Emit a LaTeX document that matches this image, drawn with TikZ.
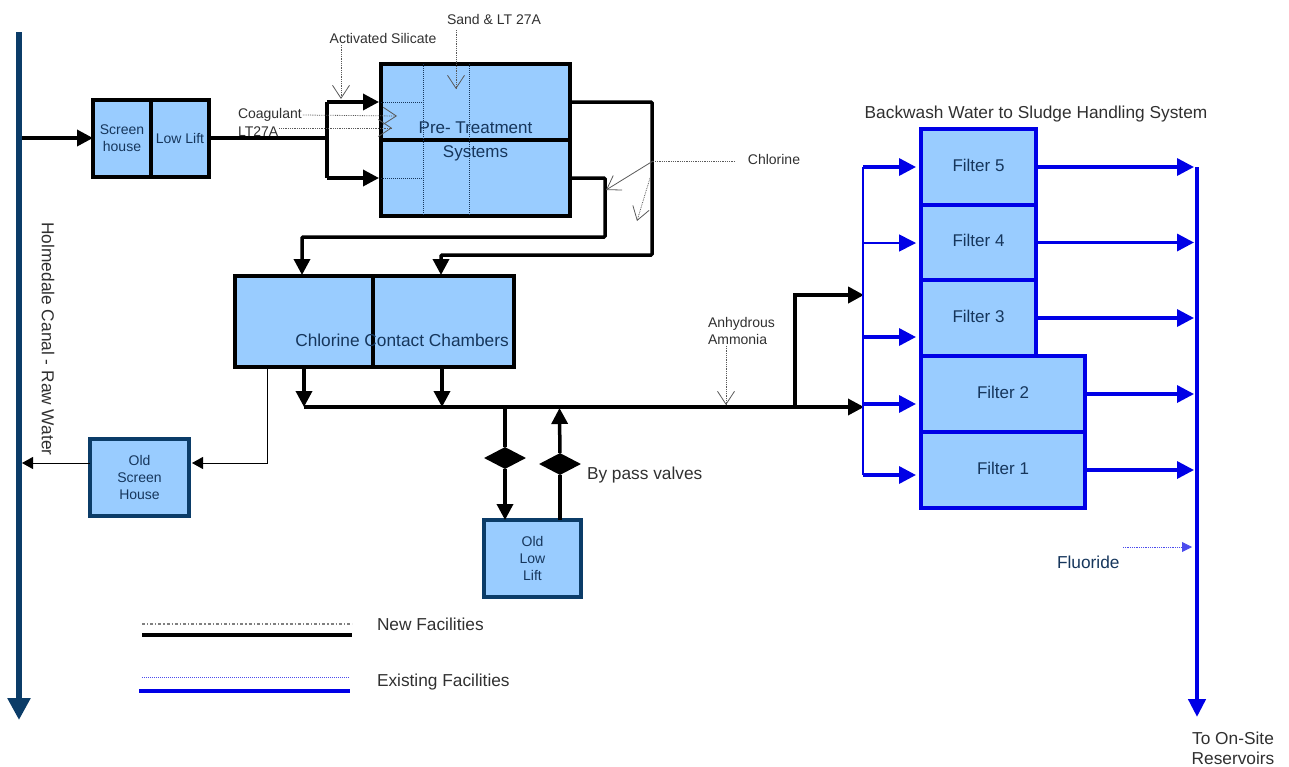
\documentclass[tikz,border=0pt]{standalone}
\usepackage{fontspec}
\setmainfont{Liberation Sans}
\usepackage{tikz}
\usetikzlibrary{arrows.meta, positioning, shapes.geometric, calc}
\definecolor{tankblue}{HTML}{99CCFF}
\definecolor{canalblue}{HTML}{0B3C68}
\definecolor{boxtext}{HTML}{16365C}
\definecolor{labeltext}{HTML}{303030}
\definecolor{linkblue}{HTML}{0000E6}
\tikzset{
  tankbox/.style={
    rectangle,
    draw=black,
    fill=tankblue,
    line width=3.5pt,
    inner sep=0pt,
    outer sep=0pt,
    align=center,
    text=boxtext,
    font=\fontsize{14}{17}\selectfont
  },
  oldbox/.style={tankbox, draw=canalblue, line width=3.2pt},
  filterbox/.style={tankbox, draw=linkblue, line width=3.2pt, text depth=4pt, font=\fontsize{17}{20}\selectfont},
  plainlabel/.style={
    inner sep=0pt,
    outer sep=1pt,
    align=center,
    text=labeltext,
    font=\fontsize{14}{17}\selectfont
  },
  largelabel/.style={plainlabel, font=\fontsize{17.3}{20}\selectfont},
  flowarrow/.style={-{Triangle[length=16pt,width=16pt]}, line width=3.5pt, draw=black},
  flowline/.style={line width=3.5pt, draw=black},
  thinarrow/.style={-{Triangle[length=11pt,width=12pt]}, line width=1pt, draw=black},
  bluearrow/.style={-{Triangle[length=17pt,width=17pt]}, line width=3.4pt, draw=linkblue},
  dosearrow/.style={-{Straight Barb[length=13pt,width=17pt]}, line width=.8pt, densely dotted, draw=black!65},
  valvemark/.style={diamond, fill=black, inner sep=0pt, minimum width=42pt, minimum height=22pt},
  tapline/.style={line width=1pt, densely dotted, draw=boxtext}
}
\begin{document}
\begin{tikzpicture}[x=1pt, y=-1pt]
  \useasboundingbox (0,0) rectangle (1289,766);

  % raw water side
  \coordinate (canaltop) at (19,32);
  \coordinate (canalend) at (19,720);
  \coordinate (intake) at (22,138);
  \coordinate (outfall) at (22,463);
  \draw[-{Triangle[length=22pt,width=22pt]}, line width=6pt, draw=canalblue] (canaltop) -- (canalend);
  \node[largelabel, rotate=-90] (canallabel) at (48,339) {Holmedale Canal - Raw Water};

  % main boxes
  \node[tankbox, minimum width=58pt, minimum height=77pt, anchor=north west] (screen) at (93,100) {Screen\\house};
  \node[tankbox, minimum width=58pt, minimum height=77pt, right=0pt of screen] (lowlift) {Low Lift};
  \node[tankbox, minimum width=189pt, minimum height=76pt, anchor=north west] (pretop) at (381,64) {};
  \node[tankbox, minimum width=189pt, minimum height=76pt, below=0pt of pretop] (prelow) {};
  \node[tankbox, minimum width=138pt, minimum height=91pt, anchor=north west] (chamberA) at (235,276) {};
  \node[tankbox, minimum width=141pt, minimum height=91pt, right=0pt of chamberA] (chamberB) {};
  \node[oldbox, minimum width=99pt, minimum height=77pt, anchor=north west] (oldscreen) at (90,439) {Old\\Screen\\House};
  \node[oldbox, minimum width=97pt, minimum height=77pt, anchor=north west] (oldlift) at (484,520) {Old\\Low\\Lift};

  \node[filterbox, minimum width=115pt, minimum height=76pt, anchor=north west] (filterfive) at (921,129) {Filter 5};
  \node[filterbox, minimum width=115pt, minimum height=75pt, below=0pt of filterfive] (filterfour) {Filter 4};
  \node[filterbox, minimum width=115pt, minimum height=76pt, below=0pt of filterfour] (filterthree) {Filter 3};
  \node[filterbox, minimum width=164pt, minimum height=76pt, anchor=north west] (filtertwo) at (921,356) {Filter 2};
  \node[filterbox, minimum width=164pt, minimum height=76pt, below=0pt of filtertwo] (filterone) {Filter 1};

  % dotted lines inside the pre-treatment tanks
  \coordinate (tapA) at (423,64);
  \coordinate (tapB) at (469,64);
  \coordinate (tapC) at (423,216);
  \coordinate (tapD) at (469,216);
  \coordinate (tapE) at (423,102);
  \coordinate (tapF) at (423,178);
  \draw[tapline] (tapA) -- (tapC);
  \draw[tapline] (tapB) -- (tapD);
  \draw[tapline] (pretop.west) -- (tapE);
  \draw[tapline] (prelow.west) -- (tapF);

  \node[plainlabel, font=\fontsize{17}{24}\selectfont, text=boxtext] (pretext) at (475.5,141) {Pre- Treatment\\Systems};
  \node[plainlabel, font=\fontsize{17.3}{20}\selectfont, text=boxtext] (chambertext) at (402,340) {Chlorine Contact Chambers};

  % black process lines
  \coordinate (split) at (327,138);
  \coordinate (splittop) at (327,102);
  \coordinate (splitlow) at (327,178);
  \draw[flowarrow] (intake) -- (screen.west |- intake);
  \draw[flowline] (lowlift.east |- split) -- (split);
  \draw[flowline] (splittop) -- (splitlow);
  \draw[flowarrow, shorten >=2pt] (splittop) -- (pretop.west);
  \draw[flowarrow, shorten >=2pt] (splitlow) -- (prelow.west);

  \coordinate (lowdrop) at (605,237);
  \coordinate (topdrop) at (652,255);
  \coordinate (chamberinA) at (302,275);
  \coordinate (chamberinB) at (441,275);
  \draw[flowarrow, rounded corners=1pt] (prelow.east) -| (lowdrop) -| (chamberinA);
  \draw[flowarrow, rounded corners=1pt] (pretop.east) -| (topdrop) -| (chamberinB);

  \coordinate (headstart) at (304,407);
  \coordinate (headtap) at (442,407);
  \coordinate (headend) at (864,407);
  \coordinate (bypassout) at (505,407);
  \coordinate (bypassin) at (559.5,408);
  \coordinate (riser) at (795,407);
  \coordinate (riserend) at (864,295);
  \draw[flowarrow] (headstart |- chamberA.south) -- (headstart);
  \draw[flowarrow] (headtap |- chamberB.south) -- (headtap);
  \draw[flowarrow] (headstart) -- (headend);
  \draw[flowarrow, line width=4pt] (riser) |- (riserend);

  % bypass valves
  \node[valvemark] (valveout) at (505,458) {};
  \node[valvemark] (valvein) at (560,464) {};
  \draw[flowline] (bypassout) -- (valveout);
  \draw[flowarrow] (valveout) -- (bypassout |- oldlift.north);
  \draw[flowline] (valvein |- oldlift.north) -- (valvein);
  \draw[flowarrow] (valvein) -- (bypassin);
  \node[largelabel, anchor=west] (valvelabel) at (586,475) {By pass valves};

  % old screen house drain
  \coordinate (drain) at (267,367);
  \coordinate (drainturn) at (192,463);
  \draw[thinarrow] (drain) |- (drainturn);
  \draw[thinarrow] (oldscreen.west |- outfall) -- (outfall);

  % filter inlets
  \coordinate (manifoldtop) at (863,167);
  \coordinate (manifoldlow) at (863,475);
  \draw[linkblue, line width=1.2pt] (manifoldtop) -- (manifoldlow);
  \foreach \rowy/\rowname in {167/filterfive,337/filterthree,404/filtertwo,475/filterone}
    \draw[bluearrow, shorten >=5pt] (863,\rowy) -- (\rowname.west |- 863,\rowy);
  \draw[bluearrow, line width=1.6pt, shorten >=5pt] (863,243) -- (filterfour.west |- 863,243);

  % filter outlets
  \coordinate (mainstart) at (1197,167);
  \coordinate (mainend) at (1197,717);
  \draw[-{Triangle[length=18pt,width=17pt]}, line width=4.4pt, draw=linkblue] (mainstart) -- (mainend);
  \foreach \rowname in {filterfive,filterfour,filterthree,filtertwo,filterone}
    \draw[bluearrow, shorten >=3pt] (\rowname.east) -- (\rowname.east -| mainstart);
  \node[largelabel] (backwash) at (1036,114) {Backwash Water to Sludge Handling System};
  \node[largelabel] (reservoirs) at (1233,748) {To On-Site\\Reservoirs};

  % chemical feeds
  \node[plainlabel] (silicate) at (383,38) {Activated Silicate};
  \node[plainlabel] (sand) at (494,19) {Sand \& LT 27A};
  \node[plainlabel, anchor=west] (coagulant) at (237,115) {Coagulant};
  \node[plainlabel, anchor=west] (polymer) at (237,131.5) {LT27A};
  \node[plainlabel] (chlorine) at (774,159) {Chlorine};
  \node[plainlabel, anchor=west, align=left] (ammonia) at (707,331) {Anhydrous\\Ammonia};

  \coordinate (silicatefrom) at (341,45);
  \coordinate (silicateto) at (341,99);
  \coordinate (sandfrom) at (456,30);
  \coordinate (sandto) at (456,89);
  \coordinate (coagulantto) at (397,116);
  \coordinate (polymerto) at (392,128);
  \coordinate (chlorinefrom) at (735,161);
  \coordinate (chlorinejoin) at (653,161);
  \coordinate (chlorinebend) at (650,178);
  \coordinate (chlorineA) at (606,190);
  \coordinate (chlorineB) at (637,221);
  \coordinate (ammoniafrom) at (726,346);
  \coordinate (ammoniato) at (726,405);
  \draw[dosearrow] (silicatefrom) -- (silicateto);
  \draw[dosearrow] (sandfrom) -- (sandto);
  \draw[dosearrow] (coagulant.east) -- (coagulantto);
  \draw[dosearrow] (polymer.east |- polymerto) -- (polymerto);
  \draw[dosearrow, -] (chlorinefrom) -- (chlorinejoin);
  \draw[dosearrow, solid] (chlorinejoin) -- (chlorineA);
  \draw[dosearrow] (chlorinebend) -- (chlorineB);
  \draw[dosearrow] (ammoniafrom) -- (ammoniato);

  \node[largelabel, anchor=west, text=boxtext] (fluoride) at (1056,562) {Fluoride};
  \coordinate (fluoridefrom) at (1123,547);
  \coordinate (fluorideto) at (1192,547);
  \draw[-{Triangle[length=10pt,width=10pt]}, line width=.8pt, densely dotted, draw=linkblue!70] (fluoridefrom) -- (fluorideto);

  % legend
  \node[largelabel, anchor=west] (newlabel) at (376,624.5) {New Facilities};
  \node[largelabel, anchor=west] (existlabel) at (376,682.5) {Existing Facilities};
  \coordinate (newstart) at (142,624);
  \coordinate (newend) at (352,624);
  \coordinate (newsolidA) at (142,635);
  \coordinate (newsolidB) at (352,635);
  \coordinate (oldstart) at (142,677);
  \coordinate (oldend) at (350,677);
  \coordinate (oldsolidA) at (139,691);
  \coordinate (oldsolidB) at (350,691);
  \draw[black!50, line width=1.2pt, dash dot] (newstart) -- (newend);
  \draw[black, line width=3.5pt] (newsolidA) -- (newsolidB);
  \draw[linkblue!70, line width=1pt, densely dotted] (oldstart) -- (oldend);
  \draw[linkblue, line width=3.5pt] (oldsolidA) -- (oldsolidB);
\end{tikzpicture}
\end{document}
